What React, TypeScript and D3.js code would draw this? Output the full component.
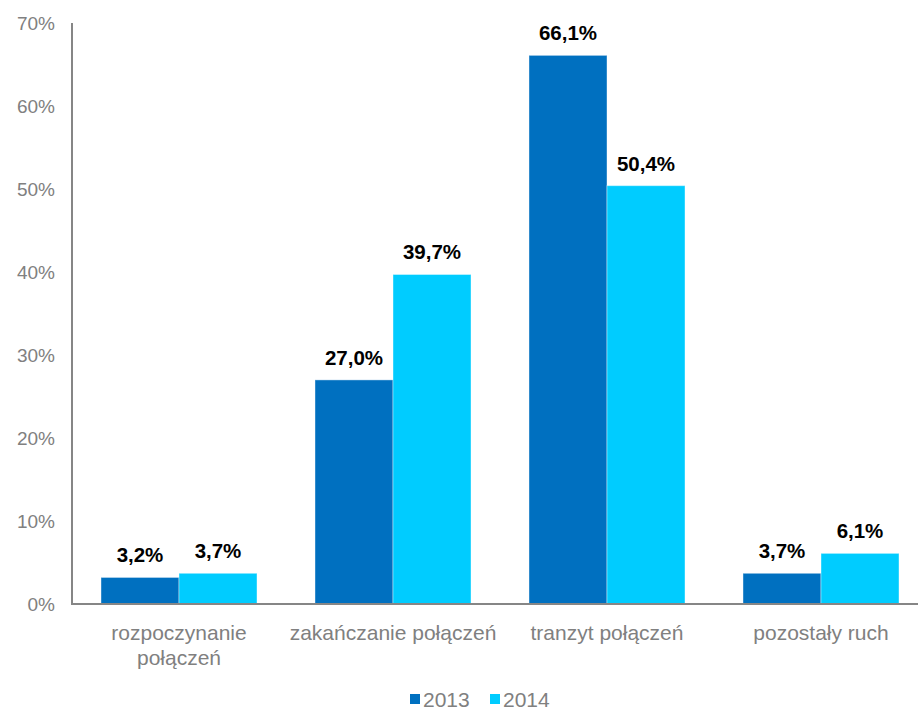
import React from "react";
import * as d3 from "d3";

const categories = ["rozpoczynanie połączeń", "zakańczanie połączeń", "tranzyt połączeń", "pozostały ruch"];
const categoryLines = [["rozpoczynanie", "połączeń"], ["zakańczanie połączeń"], ["tranzyt połączeń"], ["pozostały ruch"]];
const seriesNames = ["2013", "2014"];
const values2013 = [3.2, 27.0, 66.1, 3.7];
const values2014 = [3.7, 39.7, 50.4, 6.1];
const yTicks = [0, 10, 20, 30, 40, 50, 60, 70];
const colors = ["#0070C0", "#00CCFF"];

export default function App() {
  const W = 918, H = 711;
  const font = "'Liberation Sans', Arial, sans-serif";
  const y = d3.scaleLinear().domain([0, 70]).range([604, 23]);
  const x = d3.scaleBand<string>().domain(categories).range([72, 928]).paddingInner(0.271).paddingOuter(0.1355);
  const xs = d3.scaleBand<string>().domain(seriesNames).range([0, x.bandwidth()]);
  const series = [values2013, values2014];
  const fmt = (v: number) => v.toFixed(1).replace(".", ",") + "%";

  return (
    <div style={{ position: "absolute", left: 0, top: 0 }}>
      <svg width={W} height={H} style={{ display: "block", fontFamily: font }}>
        <rect width={W} height={H} fill="#fff" />
        {yTicks.map((t) => (
          <text key={t} x={55} y={y(t)} dy="0.35em" textAnchor="end" fontSize={19} fill="#808080">
            {t}%
          </text>
        ))}
        {categories.map((c, i) =>
          series.map((vals, s) => {
            const bx = (x(c) ?? 0) + (xs(seriesNames[s]) ?? 0);
            const v = vals[i];
            return (
              <g key={c + s}>
                <rect x={bx} y={y(v)} width={xs.bandwidth()} height={y(0) - y(v)} fill={colors[s]} stroke="#ffffff" strokeOpacity={0.4} strokeWidth={1} />
                <text x={bx + xs.bandwidth() / 2} y={y(v) - 15} textAnchor="middle" fontSize={20.5} fontWeight="bold" fill="#000">
                  {fmt(v)}
                </text>
              </g>
            );
          })
        )}
        <line x1={72} x2={918} y1={604} y2={604} stroke="#868686" strokeWidth={2} />
        <line x1={72} x2={72} y1={23} y2={605} stroke="#868686" strokeWidth={2} />
        {categories.map((c, i) => (
          <text key={c} textAnchor="middle" fontSize={21} fill="#808080">
            {categoryLines[i].map((ln, j) => (
              <tspan key={j} x={(x(c) ?? 0) + x.bandwidth() / 2} y={640 + j * 25}>
                {ln}
              </tspan>
            ))}
          </text>
        ))}
        {seriesNames.map((s, i) => {
          const lx = [410, 490][i];
          return (
            <g key={s}>
              <rect x={lx} y={694} width={10} height={10} fill={colors[i]} />
              <text x={lx + 13} y={707} fontSize={21} fill="#808080">{s}</text>
            </g>
          );
        })}
      </svg>
    </div>
  );
}
